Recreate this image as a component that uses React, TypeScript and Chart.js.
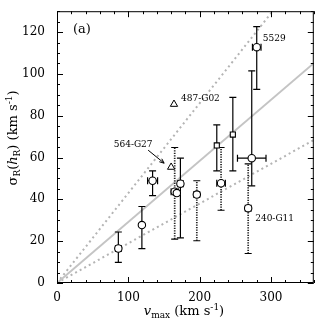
import React, { useEffect, useRef } from "react";
import { Chart, registerables } from "chart.js";
Chart.register(...registerables);

// Galaxies drawn as circles
const circleVmax = [86, 119, 134, 165, 168, 173, 196, 230, 268, 273, 280];
const circleSigma = [16.5, 27.7, 48.9, 43.7, 43.0, 47.5, 42.3, 47.7, 35.8, 59.7, 112.8];
const circleVErr = [4, 0, 7, 5, 0, 4, 4, 6, 4, 20, 6];
const circleSigmaLo = [9.9, 16.4, 41.8, 21.0, NaN, 21.6, 20.2, 34.8, 14.1, 46.5, 92.6];
const circleSigmaHi = [24.4, 36.6, 53.6, 64.8, NaN, 59.7, 48.9, 64.8, 57.0, 101.5, 122.6];
const circleDotted = [false, false, false, true, false, false, true, true, true, false, false];

// Galaxies drawn as squares
const squareVmax = [224, 246.5];
const squareSigma = [65.8, 71.0];
const squareSigmaLo = [53.6, 53.6];
const squareSigmaHi = [75.6, 88.8];

// Galaxies drawn as triangles
const triVmax = [160, 164];
const triSigma = [55.4, 85.5];

// Relations sigma = k * vmax
const slopeMain = 0.292;
const slopeUpper = 0.43;
const slopeLower = 0.19;

const xTickLabels = [0, 100, 200, 300];
const yTickLabels = [0, 20, 40, 60, 80, 100, 120];

const SERIF = "'DejaVu Serif', serif";

type Piece = { t: string; f: string; dy: number };

function drawPieces(ctx: CanvasRenderingContext2D, pieces: Piece[], x: number, y: number, center: boolean) {
  let w = 0;
  for (const p of pieces) {
    ctx.font = p.f;
    w += ctx.measureText(p.t).width;
  }
  let cx = center ? x - w / 2 : x;
  ctx.textAlign = "left";
  ctx.textBaseline = "alphabetic";
  for (const p of pieces) {
    ctx.font = p.f;
    ctx.fillText(p.t, cx, y + p.dy);
    cx += ctx.measureText(p.t).width;
  }
}

export default function App() {
  const ref = useRef<HTMLCanvasElement>(null);
  useEffect(() => {
    document.body.style.margin = "0";
    const ctx = ref.current!.getContext("2d")!;

    const errorBars = {
      id: "errorBars",
      beforeDatasetDraw(chart: any, args: any) {
        if (args.index !== 2) return;
        const c = chart.ctx as CanvasRenderingContext2D;
        const xs = chart.scales.x;
        const ys = chart.scales.y;
        const cap = 3.5;
        const drawBar = (v: number, s: number, vErr: number, lo: number, hi: number, dotted: boolean) => {
          const px = xs.getPixelForValue(v);
          const py = ys.getPixelForValue(s);
          c.save();
          c.strokeStyle = "#000";
          if (!isNaN(lo) && !isNaN(hi)) {
            const pLo = ys.getPixelForValue(lo);
            const pHi = ys.getPixelForValue(hi);
            c.lineWidth = dotted ? 1.7 : 1.2;
            c.setLineDash(dotted ? [1.3, 1.2] : []);
            c.strokeStyle = dotted ? "#222" : "#000";
            c.beginPath();
            c.moveTo(px, pLo);
            c.lineTo(px, pHi);
            c.stroke();
            c.setLineDash([]);
            c.lineWidth = 1.2;
            c.strokeStyle = "#000";
            c.beginPath();
            c.moveTo(px - cap, pLo);
            c.lineTo(px + cap, pLo);
            c.moveTo(px - cap, pHi);
            c.lineTo(px + cap, pHi);
            c.stroke();
          }
          if (vErr > 0) {
            const pL = xs.getPixelForValue(v - vErr);
            const pR = xs.getPixelForValue(v + vErr);
            c.lineWidth = 1.2;
            c.beginPath();
            c.moveTo(pL, py);
            c.lineTo(pR, py);
            c.moveTo(pL, py - cap);
            c.lineTo(pL, py + cap);
            c.moveTo(pR, py - cap);
            c.lineTo(pR, py + cap);
            c.stroke();
          }
          c.restore();
        };
        circleVmax.forEach((v, i) =>
          drawBar(v, circleSigma[i], circleVErr[i], circleSigmaLo[i], circleSigmaHi[i], circleDotted[i])
        );
        squareVmax.forEach((v, i) => drawBar(v, squareSigma[i], 0, squareSigmaLo[i], squareSigmaHi[i], false));
      },
    };

    const decor = {
      id: "decor",
      afterDraw(chart: any) {
        const c = chart.ctx as CanvasRenderingContext2D;
        const a = chart.chartArea;
        const xs = chart.scales.x;
        const ys = chart.scales.y;
        c.save();
        c.strokeStyle = "#000";
        c.lineWidth = 1;
        c.strokeRect(a.left + 0.5, a.top + 0.5, a.right - a.left - 1, a.bottom - a.top - 1);
        c.beginPath();
        for (let v = 0; v <= 360; v += 20) {
          const px = Math.round(xs.getPixelForValue(v)) + 0.5;
          const len = v % 100 === 0 ? 6 : 3;
          c.moveTo(px, a.bottom);
          c.lineTo(px, a.bottom - len);
          c.moveTo(px, a.top);
          c.lineTo(px, a.top + len);
        }
        for (let s = 0; s <= 130; s += 5) {
          const py = Math.round(ys.getPixelForValue(s)) + 0.5;
          const len = s % 20 === 0 ? 6 : 3;
          c.moveTo(a.left, py);
          c.lineTo(a.left + len, py);
          c.moveTo(a.right, py);
          c.lineTo(a.right - len, py);
        }
        c.stroke();

        c.fillStyle = "#000";
        // x title
        const big = `13px ${SERIF}`;
        const bigIt = `italic 13px ${SERIF}`;
        const small = `9px ${SERIF}`;
        drawPieces(
          c,
          [
            { t: "v", f: bigIt, dy: 0 },
            { t: "max", f: small, dy: 3 },
            { t: " (km s", f: big, dy: 0 },
            { t: "-1", f: small, dy: -5 },
            { t: ")", f: big, dy: 0 },
          ],
          184,
          315,
          true
        );
        // y title
        c.save();
        c.translate(17, 138);
        c.rotate(-Math.PI / 2);
        drawPieces(
          c,
          [
            { t: "σ", f: big, dy: 0 },
            { t: "R", f: small, dy: 3 },
            { t: "(", f: big, dy: 0 },
            { t: "h", f: bigIt, dy: 0 },
            { t: "R", f: small, dy: 3 },
            { t: ") (km s", f: big, dy: 0 },
            { t: "-1", f: small, dy: -5 },
            { t: ")", f: big, dy: 0 },
          ],
          0,
          0,
          true
        );
        c.restore();

        // panel label
        c.font = `13px ${SERIF}`;
        c.textAlign = "left";
        c.textBaseline = "alphabetic";
        c.fillText("(a)", a.left + 16, 33);

        // point annotations
        c.font = `9px ${SERIF}`;
        const p5529x = xs.getPixelForValue(circleVmax[10]);
        const p5529y = ys.getPixelForValue(circleSigma[10]);
        c.fillText("5529", p5529x + 6, p5529y - 6);
        const p240x = xs.getPixelForValue(circleVmax[8]);
        const p240y = ys.getPixelForValue(circleSigma[8]);
        c.fillText("240-G11", p240x + 7, p240y + 13);
        const t487x = xs.getPixelForValue(triVmax[1]);
        const t487y = ys.getPixelForValue(triSigma[1]);
        c.fillText("487-G02", t487x + 7, t487y - 3);
        const t564x = xs.getPixelForValue(triVmax[0]);
        const t564y = ys.getPixelForValue(triSigma[0]);
        c.textAlign = "center";
        c.fillText("564-G27", t564x - 38, t564y - 20);
        // arrow
        const x0 = t564x - 23, y0 = t564y - 17, x1 = t564x - 7, y1 = t564y - 4;
        c.lineWidth = 1;
        c.beginPath();
        c.moveTo(x0, y0);
        c.lineTo(x1, y1);
        c.stroke();
        const ang = Math.atan2(y1 - y0, x1 - x0);
        c.beginPath();
        c.moveTo(x1, y1);
        c.lineTo(x1 - 5 * Math.cos(ang - 0.4), y1 - 5 * Math.sin(ang - 0.4));
        c.moveTo(x1, y1);
        c.lineTo(x1 - 5 * Math.cos(ang + 0.4), y1 - 5 * Math.sin(ang + 0.4));
        c.stroke();
        c.restore();
      },
    };

    const lineDs = (k: number, dotted: boolean) => ({
      type: "line" as const,
      data: [
        { x: 0, y: 0 },
        { x: 360, y: 360 * k },
      ],
      borderColor: dotted ? "#b4b4b4" : "#c4c4c4",
      borderWidth: 2,
      borderDash: dotted ? [2, 3.2] : [],
      pointRadius: 0,
      fill: false,
    });

    const chart = new Chart(ctx, {
      type: "scatter",
      data: {
        datasets: [
          {
            data: circleVmax.map((v, i) => ({ x: v, y: circleSigma[i] })),
            pointStyle: "circle",
            pointRadius: 3.7,
            backgroundColor: "#fff",
            borderColor: "#000",
            borderWidth: 1.1,
          },
          {
            data: squareVmax.map((v, i) => ({ x: v, y: squareSigma[i] })),
            pointStyle: "rect",
            pointRadius: 3.6,
            backgroundColor: "#fff",
            borderColor: "#000",
            borderWidth: 1.1,
          },
          {
            data: triVmax.map((v, i) => ({ x: v, y: triSigma[i] })),
            pointStyle: "triangle",
            pointRadius: 4.2,
            backgroundColor: "#fff",
            borderColor: "#000",
            borderWidth: 1,
          },
          lineDs(slopeMain, false),
          lineDs(slopeUpper, true),
          lineDs(slopeLower, true),
        ] as any,
      },
      options: {
        animation: false,
        responsive: false,
        events: [],
        layout: { padding: { top: 7, right: 5, left: 0, bottom: 0 } },
        plugins: { legend: { display: false }, tooltip: { enabled: false } },
        scales: {
          x: {
            type: "linear",
            min: 0,
            max: 360,
            grid: { display: false },
            border: { display: false },
            afterBuildTicks: (s: any) => {
              s.ticks = xTickLabels.map((v) => ({ value: v }));
            },
            afterFit: (s: any) => {
              s.height = 43;
            },
            ticks: { color: "#000", font: { family: SERIF, size: 12 }, padding: 0, maxRotation: 0 },
          },
          y: {
            type: "linear",
            min: 0,
            max: 130,
            grid: { display: false },
            border: { display: false },
            afterBuildTicks: (s: any) => {
              s.ticks = yTickLabels.map((v) => ({ value: v }));
            },
            afterFit: (s: any) => {
              s.width = 57;
            },
            ticks: { color: "#000", font: { family: SERIF, size: 12 }, padding: 4 },
          },
        },
      } as any,
      plugins: [errorBars, decor],
    });
    return () => chart.destroy();
  }, []);
  return (
    <canvas ref={ref} width={319} height={326} style={{ display: "block", width: 319, height: 326 }} />
  );
}
